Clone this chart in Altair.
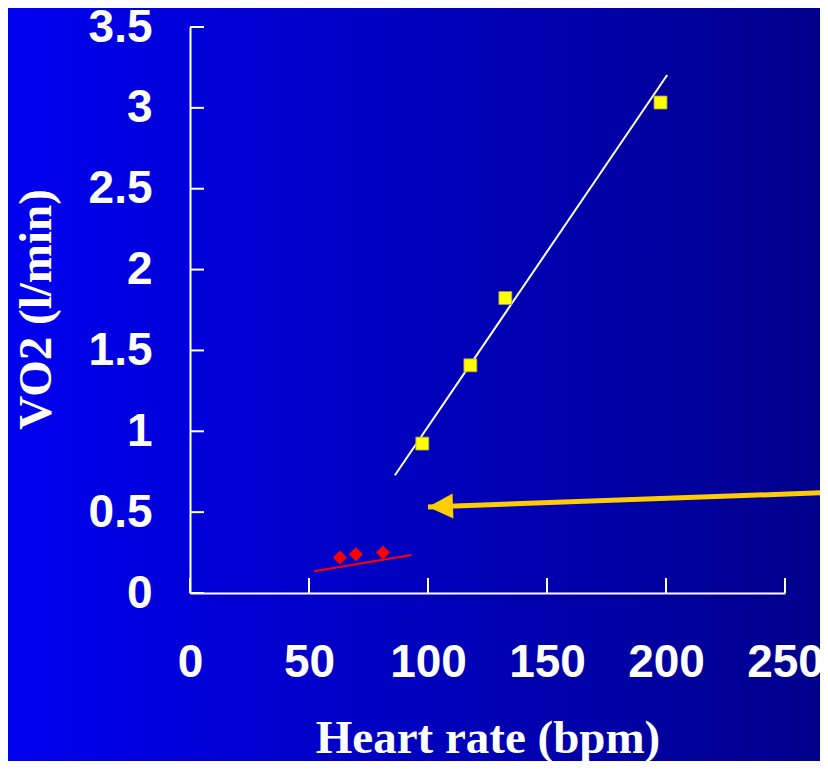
import altair as alt
import pandas as pd

# exercise points (yellow squares)
hr_exercise = [97.6, 117.8, 132.5, 197.7]
vo2_exercise = [0.924, 1.408, 1.824, 3.033]

# resting points (red diamonds)
hr_rest = [63.0, 69.7, 81.1]
vo2_rest = [0.219, 0.239, 0.250]

# fitted lines, end points
fit_hr_exercise = [86.1, 200.5]
fit_vo2_exercise = [0.728, 3.203]
fit_hr_rest = [52.1, 93.0]
fit_vo2_rest = [0.134, 0.235]

# arrow: tail off to the right, then the tip
arrow_hr = [268.0, 100.0]
arrow_vo2 = [0.621, 0.532]

x_ticks = [0, 50, 100, 150, 200, 250]
y_ticks = [0, 0.5, 1, 1.5, 2, 2.5, 3, 3.5]

W, H = 595, 566
PAD = {"left": 182, "top": 19, "right": 35, "bottom": 168}
WHITE = "#FFFFFF"
GOLD = "#FFCC00"

xscale = alt.Scale(domain=[0, 250], nice=False, zero=False)
yscale = alt.Scale(domain=[0, 3.5], nice=False, zero=False)

bg = alt.Chart(pd.DataFrame({"k": [0]})).mark_rect(
    color=alt.LinearGradient(
        gradient="linear",
        stops=[
            alt.GradientStop(color="#0000F0", offset=0),
            alt.GradientStop(color="#00008C", offset=1),
        ],
        x1=0, x2=1, y1=0, y2=0,
    )
).encode(
    x=alt.value(-PAD["left"]),
    x2=alt.value(W + PAD["right"]),
    y=alt.value(-PAD["top"]),
    y2=alt.value(H + PAD["bottom"]),
)

ex = pd.DataFrame({"hr": hr_exercise, "vo2": vo2_exercise})
squares = alt.Chart(ex).mark_point(
    shape="square", filled=True, size=169, color="#FFFF00", opacity=1,
    stroke="#9a9a50", strokeWidth=0.8,
).encode(
    x=alt.X(
        "hr:Q", scale=xscale,
        axis=alt.Axis(
            values=x_ticks, title="Heart rate (bpm)", labelPadding=47,
            titleX=W / 2, titleY=159, titleBaseline="alphabetic",
            labelFlush=False, zindex=1,
        ),
    ),
    y=alt.Y(
        "vo2:Q", scale=yscale,
        axis=alt.Axis(
            values=y_ticks, format="~g", title="VO2 (l/min)", labelPadding=38,
            titleX=-140, titleY=282, titleBaseline="alphabetic", titleAngle=270,
            zindex=1,
        ),
    ),
)

rest = pd.DataFrame({"hr": hr_rest, "vo2": vo2_rest})
diamonds = alt.Chart(rest).mark_point(
    shape="diamond", filled=True, size=196, color="#FF0000", opacity=1
).encode(x="hr:Q", y="vo2:Q")

fit_ex = alt.Chart(
    pd.DataFrame({"hr": fit_hr_exercise, "vo2": fit_vo2_exercise})
).mark_line(color=WHITE, strokeWidth=2).encode(x="hr:Q", y="vo2:Q")

fit_rest = alt.Chart(
    pd.DataFrame({"hr": fit_hr_rest, "vo2": fit_vo2_rest})
).mark_line(color="#FF0000", strokeWidth=2).encode(x="hr:Q", y="vo2:Q")

arrow_df = pd.DataFrame({"hr": arrow_hr, "vo2": arrow_vo2})
shaft = alt.Chart(arrow_df).mark_line(color=GOLD, strokeWidth=5).encode(
    x="hr:Q", y="vo2:Q"
)
head = alt.Chart(arrow_df.tail(1)).mark_point(
    shape="M0,0L2,-1L2,1Z", size=625, filled=True, color=GOLD, opacity=1, angle=358
).encode(x="hr:Q", y="vo2:Q")

# inward tick marks
xt = alt.Chart(pd.DataFrame({"hr": x_ticks})).mark_rule(
    color=WHITE, strokeWidth=2
).encode(x="hr:Q", y=alt.value(H - 15), y2=alt.value(H))
yt = alt.Chart(pd.DataFrame({"vo2": y_ticks})).mark_rule(
    color=WHITE, strokeWidth=2
).encode(y="vo2:Q", x=alt.value(0), x2=alt.value(14))

chart = (
    alt.layer(bg, xt, yt, fit_ex, fit_rest, squares, diamonds, shaft, head)
    .properties(
        width=W, height=H, padding=PAD,
        autosize=alt.AutoSizeParams(type="none"),
        background="#0000C0",
    )
    .configure_view(strokeWidth=0)
    .configure_axis(
        grid=False, ticks=False, tickSize=0,
        domainColor=WHITE, domainWidth=2,
        labelColor=WHITE, labelFont="Liberation Sans", labelFontSize=46,
        labelFontWeight="bold",
        titleColor=WHITE, titleFont="Liberation Serif", titleFontSize=47,
        titleFontWeight="bold",
    )
)

chart.save("out.html", embed_options={"renderer": "svg", "actions": False})
